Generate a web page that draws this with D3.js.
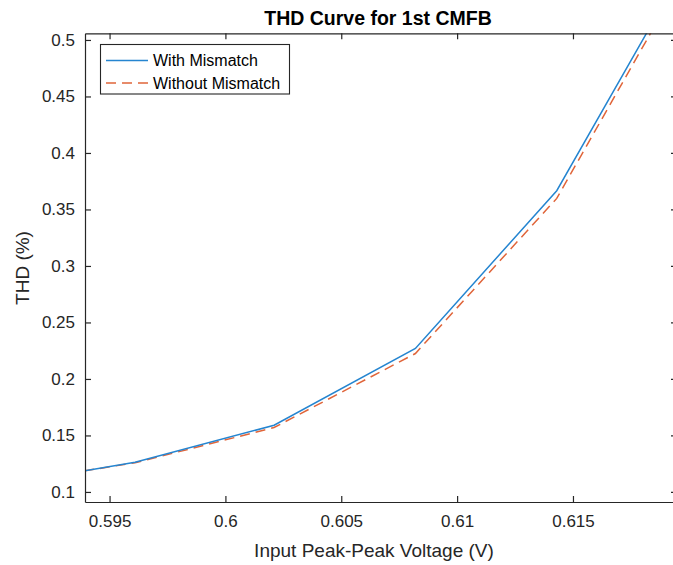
<!DOCTYPE html>
<html>
<head>
<meta charset="utf-8">
<script src="https://cdn.jsdelivr.net/npm/d3@7"></script>
<style>
  html, body { margin: 0; padding: 0; background: #fff; }
  svg { display: block; font-family: "Liberation Sans", Arial, Helvetica, sans-serif; }
</style>
</head>
<body>
<svg id="chart" width="673" height="565"></svg>
<script>
// ---- Data ----
const voltage         = [0.5939, 0.5961, 0.6021, 0.6082, 0.6143, 0.6204];
const withMismatch    = [0.1186, 0.1263, 0.1590, 0.2270, 0.3666, 0.5860];
const withoutMismatch = [0.1186, 0.1258, 0.1570, 0.2225, 0.3598, 0.5800];
const xTicks = [0.595, 0.6, 0.605, 0.61, 0.615];
const xTickLabels = ["0.595", "0.6", "0.605", "0.61", "0.615"];
const yTicks = [0.1, 0.15, 0.2, 0.25, 0.3, 0.35, 0.4, 0.45, 0.5];
const yTickLabels = ["0.1", "0.15", "0.2", "0.25", "0.3", "0.35", "0.4", "0.45", "0.5"];
const seriesNames = ["With Mismatch", "Without Mismatch"];
const xDomain = [0.59394, 0.61949];
const yDomain = [0.0911, 0.5059];

// ---- Layout ----
const svg = d3.select("#chart");
const L = 85, R = 677, T = 33.3, B = 502;
const axisColor = "#262626";
const blue = "#2585d0", orange = "#e0653a";

const x = d3.scaleLinear().domain(xDomain).range([L, R]);
const y = d3.scaleLinear().domain(yDomain).range([B, T]);

svg.append("defs").append("clipPath").attr("id", "clip")
  .append("rect").attr("x", L).attr("y", T).attr("width", R - L).attr("height", B - T);

// Lines
const line = d3.line().x((d, i) => x(voltage[i])).y(d => y(d));
const g = svg.append("g").attr("clip-path", "url(#clip)");
g.append("path").datum(withoutMismatch)
  .attr("d", line).attr("fill", "none").attr("stroke", orange)
  .attr("stroke-width", 1.5).attr("stroke-dasharray", "10,6");
g.append("path").datum(withMismatch)
  .attr("d", line).attr("fill", "none").attr("stroke", blue)
  .attr("stroke-width", 1.5);

// Axes (MATLAB style: inward ticks, box on)
const tickLen = 6;
const xAxisB = d3.axisBottom(x).tickValues(xTicks).tickFormat((d, i) => xTickLabels[i])
  .tickSizeInner(-tickLen).tickSizeOuter(0).tickPadding(13);
const xAxisT = d3.axisTop(x).tickValues(xTicks).tickFormat("")
  .tickSizeInner(-tickLen).tickSizeOuter(0);
const yAxisL = d3.axisLeft(y).tickValues(yTicks).tickFormat((d, i) => yTickLabels[i])
  .tickSizeInner(-tickLen).tickSizeOuter(0).tickPadding(10);
const yAxisR = d3.axisRight(y).tickValues(yTicks).tickFormat("")
  .tickSizeInner(-tickLen).tickSizeOuter(0);

function styleAxis(sel) {
  sel.selectAll("path").attr("stroke", axisColor).attr("stroke-width", 1.2);
  sel.selectAll("line").attr("stroke", axisColor).attr("stroke-width", 1.2);
  sel.selectAll("text").attr("fill", axisColor).attr("font-size", 17)
    .attr("font-family", "Liberation Sans, Arial, sans-serif");
}
svg.append("g").attr("transform", `translate(0,${B})`).call(xAxisB).call(styleAxis);
svg.append("g").attr("transform", `translate(0,${T})`).call(xAxisT).call(styleAxis);
svg.append("g").attr("transform", `translate(${L},0)`).call(yAxisL).call(styleAxis);
svg.append("g").attr("transform", `translate(${R},0)`).call(yAxisR).call(styleAxis);

// Title & labels
svg.append("text").attr("x", 378).attr("y", 25).attr("text-anchor", "middle")
  .attr("font-size", 19.5).attr("font-weight", "bold").attr("fill", "#000")
  .text("THD Curve for 1st CMFB");
svg.append("text").attr("x", 374).attr("y", 557).attr("text-anchor", "middle")
  .attr("font-size", 19).attr("fill", axisColor)
  .text("Input Peak-Peak Voltage (V)");
svg.append("text").attr("transform", "translate(29,268) rotate(-90)")
  .attr("text-anchor", "middle").attr("font-size", 19).attr("fill", axisColor)
  .text("THD (%)");

// Legend
const lg = svg.append("g");
lg.append("rect").attr("x", 100.5).attr("y", 44.5).attr("width", 189).attr("height", 49.5)
  .attr("fill", "#fff").attr("stroke", axisColor).attr("stroke-width", 1.1);
const colors = [blue, orange];
const dashes = [null, "10,6"];
seriesNames.forEach((name, i) => {
  const yy = 60.5 + i * 22.5;
  lg.append("line").attr("x1", 106).attr("x2", 148).attr("y1", yy).attr("y2", yy)
    .attr("stroke", colors[i]).attr("stroke-width", 1.5)
    .attr("stroke-dasharray", dashes[i]);
  lg.append("text").attr("x", 153).attr("y", yy).attr("dy", "0.35em")
    .attr("font-size", 16).attr("fill", "#000").text(name);
});
</script>
</body>
</html>
